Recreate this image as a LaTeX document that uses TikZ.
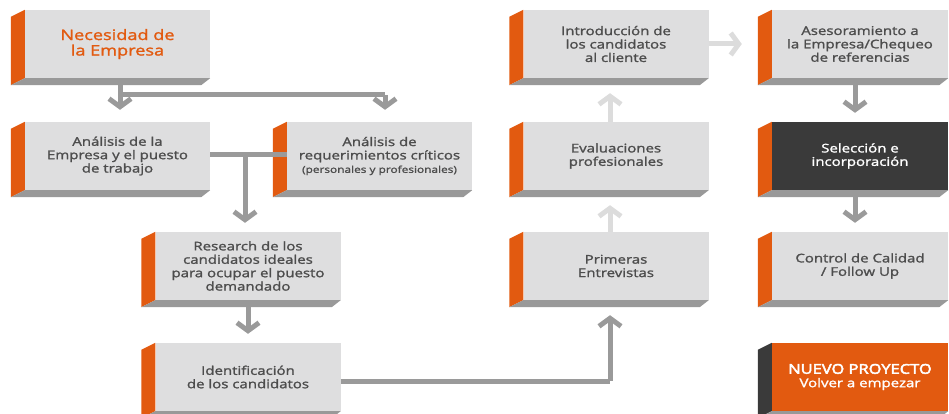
\documentclass[tikz,border=0pt]{standalone}
\usepackage{fontspec}
\setmainfont{Open Sans}
\newfontfamily\sbfont{Open Sans}[FakeBold=1.6,FakeStretch=1.25]
\newfontfamily\bdfont{Open Sans}[FakeBold=3.5,FakeStretch=1.22]
\usetikzlibrary{calc,arrows.meta}
\definecolor{facegray}{HTML}{DEDEDF}
\definecolor{stripgray}{HTML}{999999}
\definecolor{orng}{HTML}{E25A10}
\definecolor{darkbox}{HTML}{3A3A3A}
\definecolor{arrdark}{HTML}{9A9A9A}
\definecolor{arrlight}{HTML}{DCDCDC}
\definecolor{txtgray}{HTML}{4D4D4D}
\begin{document}
\begin{tikzpicture}[x=1pt,y=-1pt,
  box/.style={minimum height=68pt,inner sep=0pt,align=center,fill=facegray,text=txtgray,
     font=\sbfont\fontsize{12}{13.4}\selectfont},
  wA/.style={minimum width=185pt},
  wE/.style={minimum width=176pt},
  gline/.style={draw=arrdark,line width=5pt,line join=miter},
  lline/.style={draw=arrlight,line width=5pt,line join=miter},
  garr/.style={gline,-{Straight Barb[length=8pt,width=22pt,line width=5pt]}},
  larr/.style={lline,-{Straight Barb[length=8pt,width=22pt,line width=5pt]}},
]
\useasboundingbox (0,0) rectangle (949,414);

\newcommand\boxsides[3]{%
  \fill[#2] (#1.north west) -- (#1.south west) -- ($(#1.south west)+(-14,7)$) -- ($(#1.north west)+(-14,7)$) -- cycle;
  \fill[#3] (#1.south west) -- (#1.south east) -- ($(#1.south east)+(-9,7)$) -- ($(#1.south west)+(-14,7)$) -- cycle;}

\coordinate (j1) at (120,95);
\coordinate (j2) at (385,95);
\coordinate (j3) at (245,155);
\coordinate (j4) at (610,381);
\coordinate (j5) at (855,0);

% boxes
\node[box,wA,text=orng,font=\sbfont\fontsize{14.5}{15.5}\selectfont] (n1) at (117.5,44) {Necesidad de\\la Empresa};
\node[box,wA] (n2) at (117.5,156) {Análisis de la\\Empresa y el puesto\\de trabajo};
\node[box,wA] (n3) at (379.5,156) {Análisis de\\requerimientos críticos\\{\fontsize{9.5}{11.5}\selectfont(personales y profesionales)}};
\node[box,wA] (n4) at (248,266) {Research de los\\candidatos ideales\\para ocupar el puesto\\demandado};
\node[box,wA] (n5) at (248,377) {Identificación\\de los candidatos};
\node[box,wA] (n6) at (616,44) {Introducción de\\los candidatos\\al cliente};
\node[box,wE] (n7) at (860,44) {Asesoramiento a\\la Empresa/Chequeo\\de referencias};
\node[box,wA] (n8) at (616,156) {Evaluaciones\\profesionales};
\node[box,wE,fill=darkbox,text=white] (n9) at (860,156) {Selección e\\incorporación};
\node[box,wA] (n10) at (616,266) {Primeras\\Entrevistas};
\node[box,wE] (n11) at (860,266) {Control de Calidad\\/ Follow Up};
\node[box,wE,fill=orng,text=white] (n12) at (860,377) {{\bdfont\fontsize{13.5}{15.5}\selectfont NUEVO PROYECTO}\\Volver a empezar};

\foreach \n in {n1,n2,n3,n4,n5,n6,n7,n8,n9,n10,n11}{\boxsides{\n}{orng}{stripgray}}
\boxsides{n12}{darkbox}{stripgray}

% arrows
\draw[gline] ($(n1.south -| j1)+(0,7)$) -- (j1) -- (j2);
\draw[garr] (j1) -- ($(n2.north -| j1)+(0,-12)$);
\draw[garr] (j2) -- ($(n3.north -| j2)+(0,-12)$);
\draw[gline] (n2.east |- j3) -- (n3.west |- j3);
\draw[garr] (j3) -- ($(n4.north -| j3)+(0,-9)$);
\draw[garr] ($(n4.south)+(0,7)$) -- ($(n5.north)+(0,-9)$);
\draw[gline] (n5.east |- j4) -- (j4);
\draw[garr] (j4) -- ($(n10.south -| j4)+(0,15)$);
\draw[larr] (n10.north -| j4) -- ($(n8.south -| j4)+(0,15)$);
\draw[larr] (n8.north -| j4) -- ($(n6.south -| j4)+(0,15)$);
\draw[larr] (n6.east) -- ($(n7.west)+(-30,0)$);
\draw[garr] ($(n7.south -| j5)+(0,7)$) -- ($(n9.north -| j5)+(0,-9)$);
\draw[garr] ($(n9.south -| j5)+(0,7)$) -- ($(n11.north -| j5)+(0,-9)$);
\end{tikzpicture}
\end{document}
